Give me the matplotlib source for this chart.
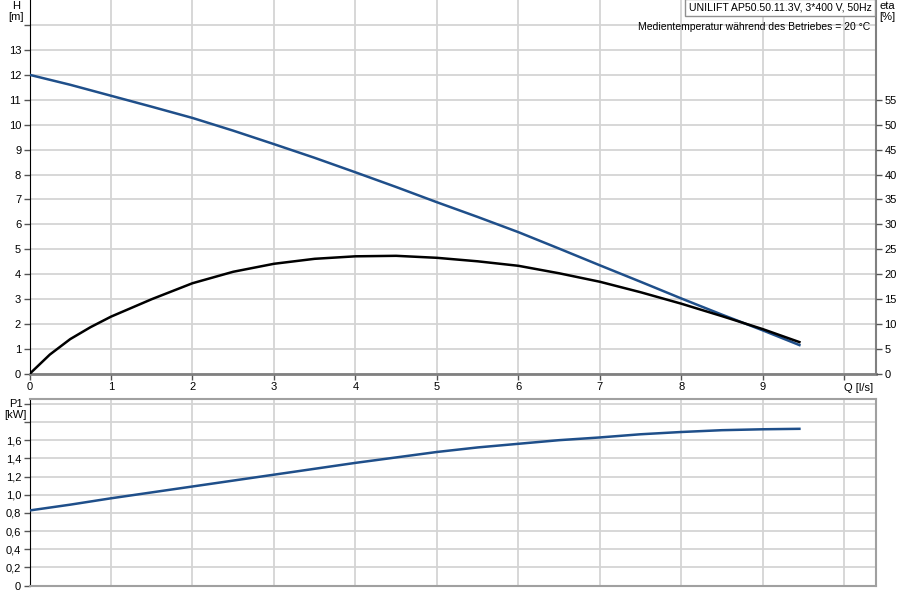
import matplotlib
matplotlib.use("Agg")
import matplotlib.pyplot as plt

# === DATA ===
q = [0, 0.5, 1, 1.5, 2, 2.5, 3, 3.5, 4, 4.5, 5, 5.5, 6, 6.5, 7, 7.5, 8, 8.5, 9, 9.45]
head = [12.0, 11.6, 11.16, 10.72, 10.27, 9.76, 9.22, 8.67, 8.09, 7.5, 6.89, 6.3,
        5.69, 5.03, 4.36, 3.7, 3.03, 2.38, 1.75, 1.16]
p1 = [0.826, 0.89, 0.96, 1.025, 1.09, 1.155, 1.22, 1.285, 1.35, 1.41, 1.47, 1.52,
      1.56, 1.60, 1.63, 1.665, 1.69, 1.71, 1.72, 1.725]
q_eta = [0, 0.25, 0.5, 0.75, 1, 1.5, 2, 2.5, 3, 3.5, 4, 4.5, 5, 5.5, 6, 6.5, 7,
         7.5, 8, 8.5, 9, 9.45]
eta = [0, 3.9, 7.0, 9.4, 11.5, 15.0, 18.2, 20.5, 22.1, 23.1, 23.6, 23.7, 23.3,
       22.6, 21.7, 20.2, 18.5, 16.4, 14.1, 11.6, 9.0, 6.4]

q_ticks = list(range(0, 11))
q_labels = [str(i) for i in range(10)] + [""]
h_ticks = list(range(0, 15))
h_labels = [str(i) for i in range(14)] + [""]
eta_ticks = list(range(0, 60, 5))
p_ticks = [0, 0.2, 0.4, 0.6, 0.8, 1.0, 1.2, 1.4, 1.6, 1.8, 2.0]
p_labels = ["0", "0,2", "0,4", "0,6", "0,8", "1,0", "1,2", "1,4", "1,6", "", ""]

title = "UNILIFT AP50.50.11.3V, 3*400 V, 50Hz"
subtitle = "Medientemperatur während des Betriebes = 20 °C"

# === STYLE ===
plt.rcParams["font.family"] = ["Liberation Sans", "DejaVu Sans"]
plt.rcParams["font.size"] = 8
BLUE = "#1f4f8a"
GRID = "#d4d4d4"
W, H = 900, 600


def px(x0, y0, x1, y1):
    return [x0 / W, 1 - y1 / H, (x1 - x0) / W, (y1 - y0) / H]


fig = plt.figure(figsize=(9, 6), dpi=100)

# === H / eta plot ===
ax = fig.add_axes(px(29.5, 0, 876, 374))
ax.set_xlim(0, 10.39)
ax.set_ylim(0, 15)
ax.set_xticks(q_ticks)
ax.set_xticklabels(q_labels)
ax.set_yticks(h_ticks)
ax.set_yticklabels(h_labels)
ax.grid(True, color=GRID, lw=1.3)
ax.set_axisbelow(True)
ax.tick_params(length=4, width=1, color="#555555", pad=2)
ax.spines["left"].set_color("black")
ax.spines["bottom"].set_color("#808080")
ax.spines["bottom"].set_linewidth(2)
ax.spines["right"].set_color("#808080")
ax.spines["right"].set_linewidth(1.5)
ax.spines["top"].set_visible(False)

ax.plot(q, head, color=BLUE, lw=1.8, zorder=3)

ax2 = ax.twinx()
ax2.set_ylim(0, 75)
ax2.set_yticks(eta_ticks)
ax2.tick_params(length=4, width=1, color="#555555", pad=2)
for s in ax2.spines.values():
    s.set_visible(False)
ax2.plot(q_eta, eta, color="black", lw=1.8, zorder=3)

ax.text(10, -0.38, "Q [l/s]", ha="left", va="top", fontsize=8)
ax.text(-0.17, 0.997, "H\n[m]", transform=ax.get_xaxis_transform(), ha="center",
        va="top", fontsize=8, linespacing=1.15)
ax.text(1.004, 0.997, "eta\n[%]", transform=ax.transAxes, ha="left", va="top",
        fontsize=8, linespacing=1.15)
ax.text(0.995, 0.993, title, transform=ax.transAxes, ha="right", va="top", fontsize=7.6,
        bbox=dict(boxstyle="square,pad=0.35", fc="white", ec="#909090", lw=1))
ax.text(0.993, 0.94, subtitle, transform=ax.transAxes, ha="right", va="top", fontsize=7.5)

# === P1 plot ===
bx = fig.add_axes(px(29.5, 399.3, 876, 585.5))
bx.set_xlim(0, 10.39)
bx.set_ylim(0, 2.05)
bx.set_xticks(q_ticks)
bx.set_xticklabels([])
bx.set_yticks(p_ticks)
bx.set_yticklabels(p_labels)
bx.grid(True, color=GRID, lw=1.3)
bx.set_axisbelow(True)
bx.tick_params(axis="y", length=4, width=1, color="#555555", pad=2)
bx.tick_params(axis="x", length=0)
bx.spines["left"].set_color("black")
for side in ["top", "right", "bottom"]:
    bx.spines[side].set_color("#a0a0a0")
    bx.spines[side].set_linewidth(1.5)
bx.plot(q, p1, color=BLUE, lw=1.8, zorder=3)
bx.text(-0.17, 1.82, "P1\n[kW]", ha="center", va="bottom", fontsize=8, linespacing=1.15)

fig.savefig("out.png", dpi=100)
